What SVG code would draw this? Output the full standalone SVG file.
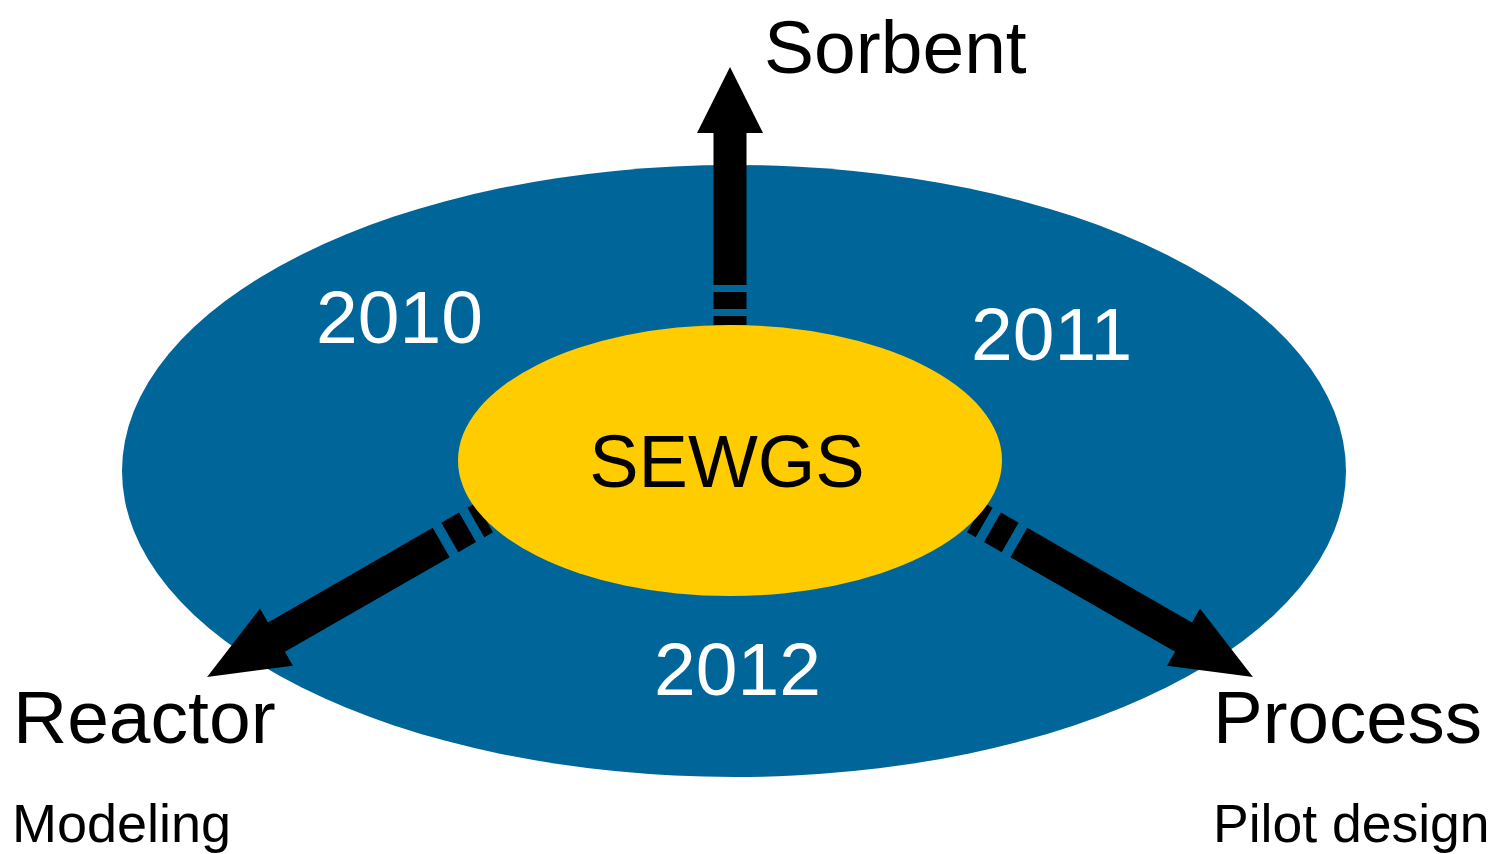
<svg xmlns="http://www.w3.org/2000/svg" width="1493" height="854" viewBox="0 0 1493 854">
<style>
.lbl{font-family:"Liberation Sans",Arial,sans-serif;fill:#000}
.yr{font-family:"Liberation Sans",Arial,sans-serif;fill:#fff;font-size:75px}
.arr{fill:#000}
</style>
<rect width="1493" height="854" fill="#fff"/>
<g id="ring">
<ellipse cx="734" cy="471" rx="612" ry="306" fill="#006699"/>
<text class="yr" x="316" y="343">2010</text>
<text class="yr" x="971" y="360">2011</text>
<text class="yr" x="654" y="695">2012</text>
</g>
<g id="connectors">
<g transform="translate(730,325) rotate(-90)">
<path class="arr" d="M0,-16.5H9V16.5H0Z M16,-16.5H33V16.5H16Z M40,-16.5H192V-33L258,0L192,33V16.5H40Z"/>
</g>
<g transform="translate(484.5,517.5) rotate(150.1)">
<path class="arr" d="M0,-17H10V17H0Z M19.5,-17H40V17H19.5Z M50,-17H240V-33L320,0L240,33V17H50Z"/>
</g>
<g transform="translate(975.5,517.5) rotate(29.9)">
<path class="arr" d="M0,-17H10V17H0Z M19.5,-17H40V17H19.5Z M50,-17H240V-33L320,0L240,33V17H50Z"/>
</g>
</g>
<g id="sewgs">
<ellipse cx="730" cy="460.5" rx="272" ry="135.5" fill="#FFCC00"/>
<text class="lbl" x="727" y="487" font-size="74" text-anchor="middle">SEWGS</text>
</g>
<g id="sorbent">
<text class="lbl" x="764" y="73" font-size="75">Sorbent</text>
</g>
<g id="reactor">
<text class="lbl" x="13" y="743" font-size="75">Reactor</text>
<text class="lbl" x="12" y="842" font-size="54">Modeling</text>
</g>
<g id="process">
<text class="lbl" x="1213" y="743" font-size="74.5">Process</text>
<text class="lbl" x="1213" y="842" font-size="53.5">Pilot design</text>
</g>
</svg>
